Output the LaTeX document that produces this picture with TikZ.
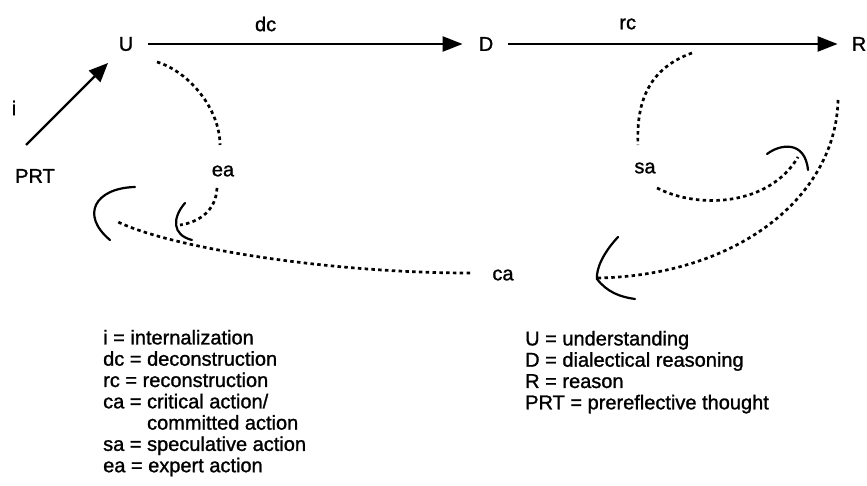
\documentclass[tikz,border=0pt]{standalone}
\usepackage{fontspec}
\setmainfont{Liberation Sans}[FakeBold=1.2]
\usetikzlibrary{arrows.meta}
\begin{document}
\begin{tikzpicture}[x=1pt,y=-1pt,
  every node/.style={inner sep=0pt, font=\fontsize{20}{21.3}\selectfont},
  flow/.style={line width=2.4pt, -{Triangle[length=20pt,width=15pt]}},
  action/.style={line width=2.7pt, dash pattern=on 3.5pt off 3.3pt},
  hook/.style={line width=2.2pt, line cap=round},
  legend/.style={anchor=north west, align=left},
]
\useasboundingbox (0,0) rectangle (867,486);

% main states
\node (U) at (126,44) {U};
\node (D) at (486,44) {D};
\node (R) at (859,44) {R};
\node (PRT) at (35,176) {PRT};

% action labels
\node (ea) at (223,171) {ea};
\node (sa) at (645,168) {sa};
\node (ca) at (503,275) {ca};
\node (ilab) at (14,108) {i};

% deconstruction and reconstruction
\draw[flow, shorten <=15pt, shorten >=16pt] (U) -- node[pos=0.383, yshift=20pt] (dc) {dc} (D);
\draw[flow, shorten <=15pt, shorten >=14pt] (D) -- node[pos=0.375, yshift=20pt] (rc) {rc} (R);

% internalization
\coordinate (iFrom) at (26,145);
\coordinate (iTo) at (108,63);
\draw[flow, line width=2.2pt, -{Triangle[length=19pt,width=16pt]}] (iFrom) -- (iTo);

% expert action: U -> ea -> hook
\coordinate (eaA) at (157,62);
\coordinate (eaB) at (220,145);
\coordinate (eaC) at (217,188);
\coordinate (eaD) at (180,225);
\draw[action] (eaA) .. controls (190,72) and (220,110) .. (eaB);
\draw[action] (eaC) .. controls (216,210) and (200,222) .. (eaD);
\draw[hook] (185,203) .. controls (172,218) and (172,235) .. (192,240);

% speculative action: from rc -> sa -> hook near R
\coordinate (saA) at (692,53);
\coordinate (saB) at (638,145);
\coordinate (saC) at (657,188);
\coordinate (saD) at (798,157);
\draw[action] (saA) .. controls (650,68) and (636,100) .. (saB);
\draw[action] (saC) .. controls (700,210) and (770,205) .. (saD);
\draw[hook] (767,154) .. controls (780,144) and (805,140) .. (808,170);

% critical action: R -> hook -> ca -> PRT hook
\coordinate (caA) at (838,100);
\coordinate (caB) at (598,278);
\coordinate (caC) at (470,273);
\coordinate (caD) at (116,221);
\draw[action] (caA) .. controls (836,195) and (740,275) .. (caB);
\draw[hook] (618,237) .. controls (604,252) and (596,268) .. (597,279)
            .. controls (607,292) and (620,297) .. (635,299);
\draw[action] (caC) .. controls (330,273) and (170,248) .. (caD);
\draw[hook] (135,187) .. controls (95,188) and (80,215) .. (110,240);

% legends
\node[legend] (keyA) at (103,329.7) {i = internalization\\
dc = deconstruction\\
rc = reconstruction\\
ca = critical action/\\
\hphantom{ca = }committed action\\
sa = speculative action\\
ea = expert action};
\node[legend] (keyB) at (525,330.7) {U = understanding\\
D = dialectical reasoning\\
R = reason\\
PRT = prereflective thought};
\end{tikzpicture}
\end{document}
